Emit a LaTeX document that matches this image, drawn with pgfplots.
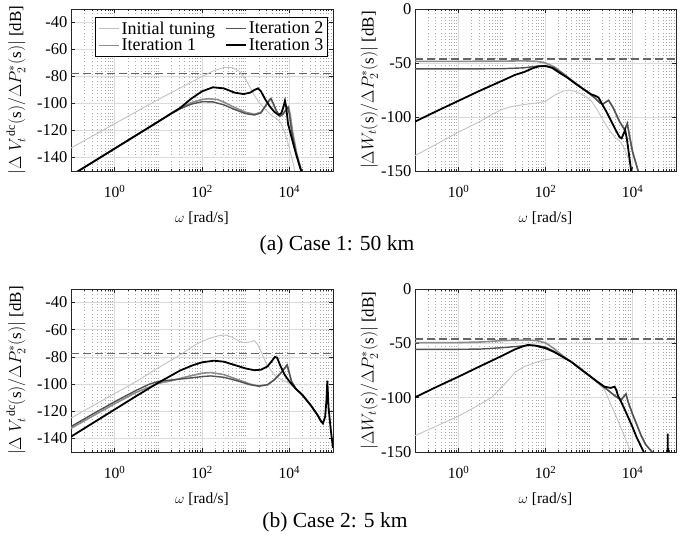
\documentclass[border=0pt]{standalone}
\usepackage{amsmath}
\usepackage{fontspec}
\setmainfont{Liberation Serif}
\usepackage{pgfplots}
\pgfplotsset{compat=1.18}
\definecolor{c0}{gray}{0.76}
\definecolor{c1}{gray}{0.55}
\definecolor{c2}{gray}{0.32}
\definecolor{gridmaj}{gray}{0.86}
\definecolor{gridmin}{gray}{0.66}
\newcommand{\fs}{\fontsize{15.5}{17}\selectfont}
\newcommand{\fy}{\fontsize{17}{19}\selectfont}
\newcommand{\ft}{\fontsize{16.5}{18}\selectfont}
\newcommand{\fl}{\fontsize{18}{18}\selectfont}
\tikzset{
  sA/.style={c0, line width=0.9pt},
  sB/.style={c1, line width=1.6pt},
  sC/.style={c2, line width=1.4pt},
  sD/.style={black, line width=1.8pt},
  limline/.style={gray!80!black, line width=1.3pt, dash pattern=on 8pt off 4pt},
}
\pgfplotsset{
  every axis/.append style={
    scale only axis,
    xmin=1e-1, xmax=1e5,
    xtick={1,100,10000},
    xticklabels={10\textsuperscript{0},10\textsuperscript{2},10\textsuperscript{4}},
    minor xtick={0.2,0.3,0.4,0.5,0.6,0.7,0.8,0.9,2,3,4,5,6,7,8,9,10,20,30,40,50,60,70,80,90,200,300,400,500,600,700,800,900,1000,2000,3000,4000,5000,6000,7000,8000,9000,20000,30000,40000,50000,60000,70000,80000,90000},
    xmajorgrids, ymajorgrids, xminorgrids,
    major grid style={gridmaj, line width=0.8pt},
    minor grid style={gridmin, line width=0.6pt, dash pattern=on 0.8pt off 2.4pt},
    axis line style={black!85, line width=0.8pt},
    tick style={black!85, line width=0.6pt},
    tick align=inside,
    major tick length=4pt, minor tick length=2pt,
    tick label style={font=\ft},
    xticklabel style={font=\fs, yshift=-11pt},
    xlabel={$\omega$ [rad/s]},
    xlabel style={font=\fs, at={(axis description cs:0.5,-0.29)}, anchor=center},
  },
}
\newcommand{\vdclabel}{$|\Delta\ V_t^{\,\mathrm{dc}}(\text{s})/\Delta P_2^*(\text{s})|$ [dB]}
\newcommand{\wtlabel}{$|\Delta W_t(\text{s})/\Delta P_2^*(\text{s})|$ [dB]}
\begin{document}
\begin{tikzpicture}
\path[use as bounding box] (0pt,0pt) rectangle (683pt,537pt);

% ---------------- (a) left ----------------
\begin{axis}[xmode=log, at={(71pt,366pt)}, anchor=south west, width=262pt, height=162pt,
  ymin=-150, ymax=-30,
  ytick={-140,-120,-100,-80,-60,-40},
  yticklabels={-140,-120,-100,-80,-60,-40},
  ylabel={\vdclabel},
  ylabel style={font=\fy, at={(axis description cs:-0.21,0.5)}, anchor=center},
  legend columns=2, legend cell align=left,
  legend style={at={(0.092,0.952)}, anchor=north west, draw=black, fill=white,
    font=\fl, inner sep=2.5pt, row sep=-1pt, line width=0.8pt,
    /tikz/every even column/.append style={column sep=8pt}},
  legend image code/.code={\draw[#1] (0pt,0pt) -- (20pt,0pt);}]
\addlegendimage{c0, line width=0.9pt}\addlegendentry{Initial tuning}
\addlegendimage{c2, line width=1.4pt}\addlegendentry{Iteration 2}
\addlegendimage{c1, line width=1.6pt}\addlegendentry{Iteration 1}
\addlegendimage{black, line width=1.8pt}\addlegendentry{Iteration 3}
\addplot[limline, forget plot] coordinates {(1e-1,-78) (1e5,-78)};
\addplot[sA, forget plot] coordinates {(1e-1,-133) (3.162e-1,-124) (1e0,-115) (3.162e0,-106) (1e1,-97) (3.162e1,-88.5) (1e2,-80) (1.778e2,-76) (3.162e2,-73.3) (5.012e2,-73.5) (7.079e2,-76) (1e3,-82) (1.259e3,-88) (1.585e3,-94) (1.995e3,-99) (2.512e3,-102.5) (3.162e3,-106) (3.981e3,-109) (5.012e3,-111) (6.310e3,-114) (7.943e3,-122) (1e4,-133) (1.259e4,-146) (1.349e4,-152)};
\addplot[sB, forget plot] coordinates {(1e-1,-153.4) (1e0,-133.4) (1e1,-113.4) (1.995e1,-107) (3.162e1,-103.5) (5.623e1,-99.5) (1e2,-97) (1.413e2,-96.5) (2.239e2,-97) (3.162e2,-99) (5.623e2,-103) (1e3,-106.5) (1.585e3,-108) (2.239e3,-106.5) (2.818e3,-102) (3.548e3,-97.5) (3.802e3,-96.8) (4.169e3,-99.5) (5.012e3,-105.5) (6.026e3,-109.5) (7.079e3,-108) (8.511e3,-104) (9.550e3,-102.5) (1.047e4,-108) (1.175e4,-120) (1.479e4,-137) (1.905e4,-150) (2.089e4,-155)};
\addplot[sC, forget plot] coordinates {(1e-1,-153.4) (1e0,-133.4) (1e1,-113.4) (1.995e1,-107.5) (3.162e1,-104) (5.623e1,-100.5) (1e2,-98.7) (1.778e2,-98.8) (3.162e2,-101) (5.623e2,-104.5) (1e3,-107.5) (1.585e3,-108.5) (2.239e3,-107) (2.818e3,-102) (3.548e3,-97) (3.802e3,-96.2) (4.169e3,-99) (5.012e3,-105) (6.026e3,-109.5) (7.079e3,-108) (8.318e3,-105) (9.333e3,-102.8) (1e4,-108) (1.122e4,-120) (1.413e4,-137) (1.862e4,-150) (2.089e4,-155)};
\addplot[sD, forget plot] coordinates {(1e-1,-153.4) (1e0,-133.4) (1e1,-113.4) (3.162e1,-103.3) (5.623e1,-96.5) (1e2,-91) (1.778e2,-88) (3.162e2,-88.8) (5.623e2,-92) (8.913e2,-93) (1.259e3,-92) (1.585e3,-90) (1.905e3,-88.8) (2.239e3,-91) (2.818e3,-97) (3.548e3,-102) (4.467e3,-106) (5.623e3,-108.5) (6.607e3,-107) (7.413e3,-102) (7.943e3,-98) (8.511e3,-103) (9.333e3,-115) (1.122e4,-125) (1.413e4,-137) (1.862e4,-150) (2.089e4,-155)};
\end{axis}

% ---------------- (a) right ----------------
\begin{axis}[xmode=log, at={(415pt,366pt)}, anchor=south west, width=261pt, height=162pt,
  ymin=-150, ymax=0, ytick={-150,-100,-50,0}, yticklabels={-150,-100,-50,0},
  ylabel={\wtlabel},
  ylabel style={font=\fy, at={(axis description cs:-0.175,0.5)}, anchor=center}]
\addplot[limline] coordinates {(1e-1,-46.3) (1e5,-46.3)};
\addplot[sA] coordinates {(1e-1,-135.8) (3.162e-1,-125) (1e0,-114) (3.162e0,-104) (6.310e0,-97) (1e1,-93) (1.585e1,-90.5) (3.162e1,-88.5) (6.310e1,-87) (1e2,-85.5) (1.585e2,-80) (2.512e2,-76) (3.548e2,-75) (5.012e2,-76.5) (7.943e2,-80.5) (1.122e3,-85) (1.585e3,-94) (2.239e3,-105) (3.162e3,-114) (3.981e3,-119) (5.012e3,-122) (6.310e3,-128) (7.943e3,-138) (1e4,-150) (1.122e4,-156)};
\addplot[sB] coordinates {(1e-1,-48.5) (1e0,-48.5) (1e1,-48.3) (3.162e1,-48) (6.310e1,-48.5) (1e2,-50) (1.585e2,-53.5) (2.512e2,-59.5) (3.981e2,-66) (6.310e2,-72) (1e3,-78) (1.413e3,-83) (1.778e3,-87) (2.089e3,-88) (2.818e3,-84.5) (3.548e3,-91) (5.012e3,-104) (6.607e3,-112) (7.586e3,-106) (8.318e3,-115) (1e4,-132) (1.349e4,-150) (1.5e4,-158)};
\addplot[sC] coordinates {(1e-1,-55.5) (1e0,-55.5) (1e1,-55.3) (3.162e1,-54.5) (6.310e1,-53) (1e2,-52.5) (1.585e2,-54.5) (2.512e2,-60) (3.981e2,-66) (6.310e2,-72) (1e3,-78) (1.413e3,-83) (1.778e3,-87) (2.089e3,-88) (2.818e3,-84.5) (3.548e3,-91) (5.012e3,-104) (6.607e3,-112) (7.586e3,-106) (8.318e3,-115) (1e4,-132) (1.349e4,-150) (1.5e4,-158)};
\addplot[sD] coordinates {(1e-1,-104.3) (3.162e-1,-94.5) (1e0,-85) (3.162e0,-75.5) (1e1,-66.5) (1.995e1,-61) (3.162e1,-58.5) (5.012e1,-55) (7.079e1,-53) (1e2,-52.8) (1.413e2,-54.5) (1.995e2,-58.5) (3.162e2,-63.5) (5.012e2,-69.5) (7.943e2,-75) (1.122e3,-79) (1.413e3,-80.5) (1.660e3,-82) (1.995e3,-88) (2.512e3,-95) (3.162e3,-103) (3.981e3,-111) (5.012e3,-118.5) (5.623e3,-119.8) (6.310e3,-115) (6.761e3,-112) (7.413e3,-120) (8.318e3,-135) (9.333e3,-150) (1e4,-158)};
\end{axis}

% ---------------- (b) left ----------------
\begin{axis}[xmode=log, at={(71pt,85pt)}, anchor=south west, width=262pt, height=163pt,
  ymin=-150, ymax=-30,
  ytick={-140,-120,-100,-80,-60,-40},
  yticklabels={-140,-120,-100,-80,-60,-40},
  ylabel={\vdclabel},
  ylabel style={font=\fy, at={(axis description cs:-0.21,0.5)}, anchor=center}]
\addplot[limline] coordinates {(1e-1,-77.6) (1e5,-77.6)};
\addplot[sA] coordinates {(1e-1,-125) (3.162e-1,-116) (1e0,-107) (3.162e0,-98) (1e1,-88) (3.162e1,-78.5) (6.918e1,-71.2) (1e2,-68.5) (1.585e2,-66) (2.512e2,-64.3) (3.467e2,-63.9) (5.012e2,-65.5) (7.079e2,-68.5) (9.333e2,-69.5) (1.259e3,-69) (1.585e3,-68) (1.905e3,-71) (2.239e3,-76) (2.951e3,-84.7) (3.981e3,-91) (5.012e3,-94.5) (6.310e3,-96.5) (7.943e3,-98) (1e4,-99.5) (1.413e4,-103.5) (1.995e4,-108) (3.162e4,-116) (4.467e4,-123) (5.248e4,-127)};
\addplot[sB] coordinates {(1e-1,-132.6) (3.162e-1,-123.5) (1e0,-114.5) (3.162e0,-106) (1e1,-99.5) (1.995e1,-97.5) (3.981e1,-95) (1e2,-92) (1.585e2,-91.5) (3.162e2,-93) (6.310e2,-96.5) (1.259e3,-100) (1.995e3,-101.5) (3.162e3,-100.5) (4.467e3,-97) (6.310e3,-92) (7.943e3,-88) (8.913e3,-86) (1e4,-92) (1.122e4,-98) (1.413e4,-103.5) (1.995e4,-108) (3.162e4,-116) (4.467e4,-123) (5.248e4,-127) (5.888e4,-129)};
\addplot[sC] coordinates {(1e-1,-131.3) (3.162e-1,-122) (1e0,-113) (3.162e0,-104.5) (6.310e0,-100) (1e1,-98) (1.995e1,-97) (3.981e1,-96) (1e2,-94.5) (1.585e2,-94) (3.162e2,-95) (6.310e2,-97.5) (1.259e3,-100.5) (1.995e3,-101.5) (3.162e3,-100.5) (4.467e3,-97) (6.310e3,-92) (7.943e3,-88) (8.913e3,-86) (1e4,-92) (1.122e4,-98) (1.413e4,-103.5) (1.995e4,-108) (3.162e4,-116) (4.467e4,-123) (5.248e4,-127) (5.888e4,-129)};
\addplot[sD] coordinates {(1e-1,-138.7) (3.162e-1,-128.7) (1e0,-118.7) (3.162e0,-108.7) (1e1,-99) (3.162e1,-90) (6.310e1,-86) (1e2,-84) (1.862e2,-82.8) (3.162e2,-83.5) (5.623e2,-86) (1e3,-88.5) (1.585e3,-89.8) (2.239e3,-89.4) (3.162e3,-87) (3.981e3,-83) (4.677e3,-80) (5.248e3,-80.5) (6.310e3,-87) (7.943e3,-93.5) (1e4,-98) (1.413e4,-103.5) (1.995e4,-108) (3.162e4,-116) (4.467e4,-123) (5.248e4,-127) (5.888e4,-129) (6.607e4,-124) (7.079e4,-112) (7.413e4,-97.5) (7.943e4,-118) (8.913e4,-134) (1e5,-147)};
\end{axis}

% ---------------- (b) right ----------------
\begin{axis}[xmode=log, at={(415pt,85pt)}, anchor=south west, width=261pt, height=163pt,
  ymin=-150, ymax=0, ytick={-150,-100,-50,0}, yticklabels={-150,-100,-50,0},
  ylabel={\wtlabel},
  ylabel style={font=\fy, at={(axis description cs:-0.175,0.5)}, anchor=center}]
\addplot[limline] coordinates {(1e-1,-46) (1e5,-46)};
\addplot[sA] coordinates {(1e-1,-135) (3.162e-1,-126) (1e0,-117) (3.162e0,-106) (5.888e0,-99.5) (1e1,-90) (1.585e1,-81.5) (1.950e1,-77) (3.162e1,-71.5) (6.607e1,-67) (1e2,-65) (1.585e2,-64) (2.291e2,-63.8) (3.981e2,-66.5) (6.310e2,-72) (1e3,-79.5) (1.585e3,-86.5) (2.291e3,-93) (3.162e3,-106) (4.571e3,-120.6) (6.310e3,-134) (9.120e3,-150) (1.122e4,-158)};
\addplot[sB] coordinates {(1e-1,-49.4) (1e0,-49.3) (3.162e0,-48.8) (1e1,-47.5) (3.162e1,-47) (6.310e1,-47.5) (1e2,-49.5) (1.585e2,-55) (2.512e2,-61.5) (3.890e2,-67) (6.310e2,-73.5) (1e3,-79.5) (1.585e3,-86) (2.512e3,-92) (3.981e3,-98.5) (5.495e3,-102.1) (6.310e3,-99) (7.079e3,-96.6) (7.943e3,-104) (1e4,-115) (1.259e4,-125) (1.585e4,-135) (1.995e4,-143) (2.818e4,-150) (3.1e4,-155)};
\addplot[sC] coordinates {(1e-1,-55.5) (1e0,-55.5) (3.162e0,-55.3) (1e1,-54) (1.995e1,-53) (3.981e1,-52) (6.310e1,-52) (1e2,-53.5) (1.585e2,-57.5) (2.512e2,-62.5) (3.890e2,-67) (6.310e2,-73.5) (1e3,-79.5) (1.585e3,-86) (2.512e3,-92) (3.981e3,-98.5) (5.495e3,-102.1) (6.310e3,-99) (7.079e3,-96.6) (7.943e3,-104) (1e4,-115) (1.259e4,-125) (1.585e4,-135) (1.995e4,-143) (2.818e4,-150) (3.1e4,-155)};
\addplot[sD] coordinates {(1e-1,-99.7) (3.162e-1,-90) (1e0,-80.7) (3.162e0,-71) (1e1,-61.5) (1.995e1,-55.5) (3.162e1,-52.5) (3.981e1,-51.5) (5.623e1,-52) (1e2,-54.5) (1.585e2,-58) (2.512e2,-62.5) (3.890e2,-67) (6.310e2,-73.5) (1e3,-79.5) (1.585e3,-85.5) (2.291e3,-90) (3.162e3,-91) (3.890e3,-89.9) (4.266e3,-93) (4.571e3,-97.5) (6.310e3,-109) (7.943e3,-118) (1e4,-127) (1.259e4,-137) (1.820e4,-150) (1.9e4,-155) (6.397e4,-160) (6.457e4,-133) (6.531e4,-160)};
\end{axis}

\node[anchor=base, font=\fontsize{21.5}{25}\selectfont] at (337pt,286pt) {(a) Case 1: 50 km};
\node[anchor=base, font=\fontsize{21.5}{25}\selectfont] at (335pt,9pt) {(b) Case 2: 5 km};
\end{tikzpicture}
\end{document}
